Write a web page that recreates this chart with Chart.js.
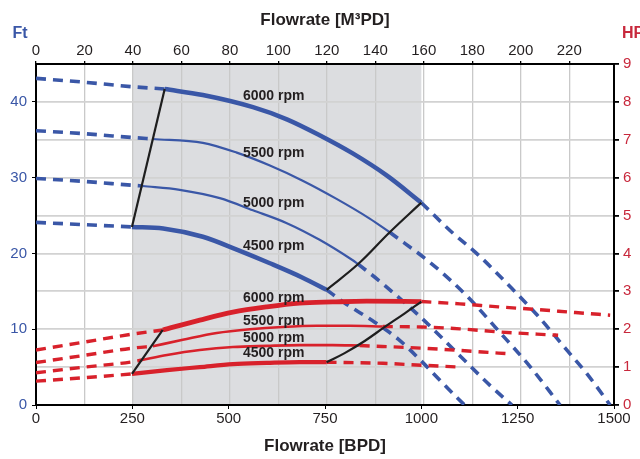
<!DOCTYPE html>
<html>
<head>
<meta charset="utf-8">
<script src="https://cdn.jsdelivr.net/npm/chart.js@4.4.1/dist/chart.umd.min.js"></script>
<style>
  html, body { margin: 0; padding: 0; background: #fff; }
  #wrap { width: 640px; height: 459px; position: relative; }
</style>
</head>
<body>
<div id="wrap"><canvas id="pump-chart"></canvas></div>
<script>
// tick values
const bpdTicks = [0, 250, 500, 750, 1000, 1250, 1500];
const m3Ticks = [0, 20, 40, 60, 80, 100, 120, 140, 160, 180, 200, 220];
const ftTicks = [0, 10, 20, 30, 40];
const hpTicks = [0, 1, 2, 3, 4, 5, 6, 7, 8, 9];
const bpdPerM3 = 6.2898;

// recommended operating range [BPD]
const bepRange = [250, 1000];

// head curves, [BPD, Ft]
const head6000Low = [[0, 43.1], [125, 42.6], [250, 42.0], [334, 41.7]];
const head6000Run = [[334, 41.7], [433, 40.9], [563, 39.3], [651, 37.7], [736, 35.6], [822, 33.2], [910, 30.3], [1000, 26.7]];
const head6000High = [[1000, 26.7], [1075, 23.0], [1150, 19.7], [1225, 15.9], [1300, 11.9], [1375, 7.4], [1430, 4.1], [1490, 0]];

const head5500Low = [[0, 36.2], [125, 35.8], [250, 35.3], [303, 35.1]];
const head5500Run = [[303, 35.1], [433, 34.6], [521, 33.3], [607, 31.6], [692, 29.6], [780, 27.2], [866, 24.6], [918, 22.8]];
const head5500High = [[918, 22.8], [1030, 18.5], [1120, 14.3], [1200, 9.8], [1280, 5.2], [1360, 0]];

const head5000Low = [[0, 29.9], [125, 29.5], [250, 29.0], [277, 28.9]];
const head5000Run = [[277, 28.9], [373, 28.4], [477, 27.3], [563, 25.7], [651, 24.0], [736, 21.8], [822, 19.1], [836, 18.6]];
const head5000High = [[836, 18.6], [900, 16.0], [1000, 11.5], [1100, 6.5], [1180, 2.5], [1235, 0]];

const head4500Low = [[0, 24.1], [125, 23.8], [249, 23.5]];
const head4500Run = [[249, 23.5], [330, 23.3], [433, 22.2], [521, 20.5], [607, 18.7], [692, 16.8], [754, 15.2]];
const head4500High = [[754, 15.2], [800, 13.5], [880, 10.9], [940, 8.7], [1000, 5.8], [1055, 2.9], [1112, 0]];

// power curves, [BPD, HP]
const power6000Low = [[0, 1.45], [125, 1.66], [250, 1.87], [329, 1.98]];
const power6000Run = [[329, 1.98], [425, 2.24], [511, 2.45], [599, 2.59], [684, 2.69], [770, 2.72], [858, 2.74], [1000, 2.73]];
const power6000High = [[1000, 2.73], [1100, 2.67], [1200, 2.59], [1300, 2.52], [1400, 2.44], [1490, 2.37]];

const power5500Low = [[0, 1.12], [125, 1.31], [250, 1.50], [303, 1.55]];
const power5500Run = [[303, 1.55], [381, 1.72], [469, 1.90], [555, 2.00], [640, 2.06], [729, 2.09], [814, 2.09], [900, 2.07]];
const power5500High = [[900, 2.07], [1000, 2.06], [1100, 2.01], [1200, 1.93], [1300, 1.87], [1355, 1.84]];

const power5000Low = [[0, 0.85], [125, 1.00], [250, 1.14], [275, 1.19]];
const power5000Run = [[275, 1.19], [340, 1.32], [425, 1.45], [511, 1.53], [599, 1.56], [684, 1.58], [770, 1.58], [840, 1.57]];
const power5000High = [[840, 1.57], [1000, 1.50], [1100, 1.44], [1200, 1.37], [1230, 1.35]];

const power4500Low = [[0, 0.63], [125, 0.72], [249, 0.82]];
const power4500Run = [[249, 0.82], [340, 0.92], [425, 1.00], [511, 1.08], [599, 1.11], [684, 1.13], [754, 1.13]];
const power4500High = [[754, 1.13], [900, 1.10], [1000, 1.05], [1100, 1.00]];

// operating range limits
const headMinFlow = [[249, 23.5], [334, 41.7]];
const headMaxFlow = [[754, 15.2], [836, 18.6], [918, 22.8], [1000, 26.7]];
const powerMinFlow = [[249, 0.82], [329, 1.98]];
const powerMaxFlow = [[754, 1.13], [801, 1.37], [853, 1.69], [905, 2.06], [957, 2.42], [1000, 2.73]];

// curve labels
const rpmText = ['6000 rpm', '5500 rpm', '5000 rpm', '4500 rpm'];
const labelBpd = 617;
const headLabelFt = [40.8, 33.3, 26.6, 20.9];
const powerLabelHp = [2.82, 2.22, 1.76, 1.36];

const BLUE = '#3a57a7';
const RED = '#d8212b';
const RED_TEXT = '#c8283c';
const INK = '#1e1e1e';
const FONT = '"Liberation Sans Narrow", "Arial Narrow", "Liberation Sans", Arial, sans-serif';

function seg(points, axis, color, width, dashed, straight) {
    const ds = {
        data: points.map(p => ({ x: p[0], y: p[1] })),
        xAxisID: 'x',
        yAxisID: axis,
        borderColor: color,
        borderWidth: width,
        borderDash: dashed ? [10, 7] : [],
        pointRadius: 0,
        fill: false
    };
    if (straight) ds.tension = 0.4;
    else ds.cubicInterpolationMode = 'monotone';
    return ds;
}

// first dataset is drawn on top
const datasets = [
    seg(headMinFlow, 'y', INK, 2.2, false, true),
    seg(headMaxFlow, 'y', INK, 2.2, false, true),
    seg(powerMinFlow, 'y2', INK, 2.2, false, true),
    seg(powerMaxFlow, 'y2', INK, 2.2, false, true),

    seg(power6000Run, 'y2', RED, 4.8, false),
    seg(power5500Run, 'y2', RED, 2.6, false),
    seg(power5000Run, 'y2', RED, 2.6, false),
    seg(power4500Run, 'y2', RED, 4.2, false),
    seg(power6000Low, 'y2', RED, 3.4, true),
    seg(power5500Low, 'y2', RED, 3.4, true),
    seg(power5000Low, 'y2', RED, 3.4, true),
    seg(power4500Low, 'y2', RED, 3.4, true),
    seg(power6000High, 'y2', RED, 3.4, true),
    seg(power5500High, 'y2', RED, 3.4, true),
    seg(power5000High, 'y2', RED, 3.4, true),
    seg(power4500High, 'y2', RED, 3.4, true),

    seg(head6000Run, 'y', BLUE, 4.5, false),
    seg(head5500Run, 'y', BLUE, 2.2, false),
    seg(head5000Run, 'y', BLUE, 2.2, false),
    seg(head4500Run, 'y', BLUE, 4.5, false),
    seg(head6000Low, 'y', BLUE, 3.6, true),
    seg(head5500Low, 'y', BLUE, 3.6, true),
    seg(head5000Low, 'y', BLUE, 3.6, true),
    seg(head4500Low, 'y', BLUE, 3.6, true),
    seg(head6000High, 'y', BLUE, 3.6, true),
    seg(head5500High, 'y', BLUE, 3.6, true),
    seg(head5000High, 'y', BLUE, 3.6, true),
    seg(head4500High, 'y', BLUE, 3.6, true)
];

const extras = {
    id: 'extras',
    beforeDraw(chart) {
        const { ctx, chartArea, scales } = chart;
        const x0 = scales.x.getPixelForValue(bepRange[0]);
        const x1 = scales.x.getPixelForValue(bepRange[1]);
        ctx.save();
        ctx.fillStyle = '#dcdde0';
        ctx.fillRect(x0, chartArea.top, x1 - x0, chartArea.bottom - chartArea.top);
        ctx.restore();
    },
    afterDatasetsDraw(chart) {
        const { ctx, scales } = chart;
        ctx.save();
        ctx.font = 'bold 14px ' + FONT;
        ctx.fillStyle = '#231f20';
        ctx.textAlign = 'center';
        ctx.textBaseline = 'middle';
        const px = scales.x.getPixelForValue(labelBpd);
        rpmText.forEach((t, i) => {
            ctx.fillText(t, px, scales.y.getPixelForValue(headLabelFt[i]));
            ctx.fillText(t, px, scales.y2.getPixelForValue(powerLabelHp[i]));
        });
        ctx.restore();
    },
    afterDraw(chart) {
        const { ctx, chartArea } = chart;
        ctx.save();
        ctx.font = 'bold 16px ' + FONT;
        ctx.textBaseline = 'middle';
        ctx.textAlign = 'center';
        ctx.fillStyle = BLUE;
        ctx.fillText('Ft', chartArea.left - 16, chartArea.top - 30);
        ctx.textAlign = 'left';
        ctx.fillStyle = RED_TEXT;
        ctx.fillText('HP', chartArea.right + 8, chartArea.top - 30);
        ctx.restore();
    }
};

const tickFont = { family: FONT, size: 15 };
const titleFont = { family: FONT, size: 17, weight: 'bold' };
const plain = v => String(v);

new Chart(document.getElementById('pump-chart'), {
    type: 'line',
    data: { datasets },
    options: {
        responsive: true,
        maintainAspectRatio: false,
        animation: false,
        devicePixelRatio: 1,
        layout: { padding: 0 },
        plugins: { legend: { display: false }, tooltip: { enabled: false } },
        scales: {
            x: {
                type: 'linear', position: 'bottom', min: 0, max: 1500,
                afterBuildTicks: s => { s.ticks = bpdTicks.map(v => ({ value: v })); },
                afterFit: s => { s.height = 54; },
                ticks: { color: '#231f20', font: tickFont, padding: 1, maxRotation: 0, callback: plain },
                grid: { drawOnChartArea: false, tickLength: 4, tickColor: '#000' },
                border: { color: '#000', width: 2 },
                title: { display: true, text: 'Flowrate [BPD]', color: '#231f20', font: titleFont, padding: { top: 0, bottom: 2 } }
            },
            x2: {
                type: 'linear', position: 'top', min: 0, max: 1500 / bpdPerM3,
                afterBuildTicks: s => { s.ticks = m3Ticks.map(v => ({ value: v })); },
                afterFit: s => { s.height = 64; },
                ticks: { color: '#231f20', font: tickFont, padding: 1, maxRotation: 0, callback: plain },
                grid: { color: '#c9c9c9', lineWidth: 1.3, tickLength: 3, tickColor: '#000' },
                border: { color: '#000', width: 2 },
                title: { display: true, text: 'Flowrate [M³PD]', color: '#231f20', font: titleFont, padding: { top: 10, bottom: 0 } }
            },
            y: {
                type: 'linear', position: 'left', min: 0, max: 45,
                afterBuildTicks: s => { s.ticks = ftTicks.map(v => ({ value: v })); },
                afterFit: s => { s.width = 36; },
                ticks: { color: BLUE, font: tickFont, padding: 5, callback: plain },
                grid: { drawOnChartArea: false, tickLength: 4, tickColor: '#000' },
                border: { color: '#000', width: 2 }
            },
            y2: {
                type: 'linear', position: 'right', min: 0, max: 9,
                afterBuildTicks: s => { s.ticks = hpTicks.map(v => ({ value: v })); },
                afterFit: s => { s.width = 26; },
                ticks: { color: RED_TEXT, font: tickFont, padding: 4, callback: plain },
                grid: { color: '#d2d2d2', lineWidth: 1.8, tickLength: 5, tickColor: '#000' },
                border: { color: '#000', width: 2 }
            }
        }
    },
    plugins: [extras]
});
</script>
</body>
</html>
